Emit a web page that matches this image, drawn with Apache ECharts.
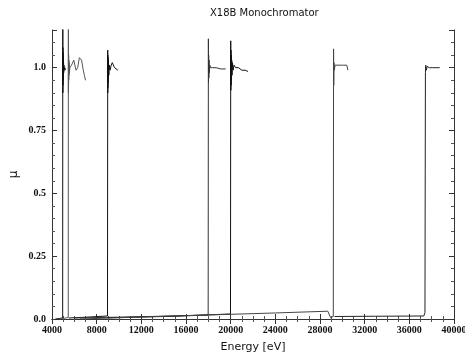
<!DOCTYPE html>
<html>
<head>
<meta charset="utf-8">
<script src="https://cdn.jsdelivr.net/npm/echarts@6/dist/echarts.min.js"></script>
<style>
  html, body { margin: 0; padding: 0; background: #fff; }
  #chart { width: 465px; height: 353px; }
</style>
</head>
<body>
<div id="chart"></div>
<script>
// energy [eV] / normalised mu for each K-edge scan
const tiE  = [4300, 4700, 4955, 4968, 4972, 4976, 4980, 4985, 4990, 4996, 5003, 5012, 5022, 5035, 5050, 5070, 5100, 5150, 5200];
const tiMu = [0.0, 0.002, 0.005, 1.45, 0.9, 1.08, 0.93, 1.06, 0.95, 1.04, 0.96, 1.03, 0.97, 1.02, 0.98, 1.01, 0.99, 1.0, 0.99];

const vE  = [4600, 5000, 5455, 5468, 5472, 5477, 5483, 5490, 5498, 5508, 5520, 5535, 5560, 5600, 5750, 5950, 6150, 6300, 6450, 6650, 6800, 6900, 7000];
const vMu = [0.0, 0.002, 0.006, 1.4, 0.9, 1.07, 0.93, 1.05, 0.95, 1.03, 0.97, 1.02, 0.98, 1.0, 1.01, 1.03, 0.99, 1.0, 1.04, 1.03, 0.99, 0.97, 0.95];

const cuE  = [5500, 7000, 8970, 8990, 8995, 9000, 9006, 9012, 9020, 9030, 9042, 9060, 9090, 9130, 9200, 9300, 9400, 9500, 9600, 9750, 9900];
const cuMu = [0.004, 0.007, 0.012, 1.07, 0.9, 1.05, 0.92, 1.04, 0.94, 1.03, 0.96, 1.02, 0.97, 1.01, 0.99, 1.01, 1.02, 1.02, 1.0, 0.995, 0.99];

const zrE  = [6000, 12000, 17985, 18005, 18015, 18030, 18045, 18065, 18090, 18130, 18200, 18400, 18700, 19100, 19550];
const zrMu = [0.004, 0.009, 0.016, 1.115, 0.94, 1.05, 0.96, 1.03, 0.98, 1.01, 1.0, 1.0, 1.0, 0.995, 0.995];

const moE  = [9000, 15000, 19985, 20005, 20015, 20028, 20042, 20058, 20075, 20095, 20120, 20160, 20220, 20300, 20450, 20700, 21000, 21300, 21550];
const moMu = [0.005, 0.011, 0.02, 1.107, 0.91, 1.07, 0.93, 1.05, 0.95, 1.03, 0.97, 1.02, 0.99, 1.01, 1.0, 1.0, 0.99, 0.99, 0.985];

const snE  = [6500, 12000, 18000, 24000, 28700, 28950, 29190, 29215, 29230, 29250, 29280, 29350, 29500, 29800, 30100, 30400, 30500];
const snMu = [0.0, 0.008, 0.016, 0.024, 0.031, 0.005, 0.01, 1.075, 0.93, 1.02, 0.99, 1.01, 1.01, 1.01, 1.01, 1.01, 0.99];

const baE  = [29300, 33000, 37300, 37400, 37440, 37470, 37520, 37600, 37800, 38100, 38400, 38720];
const baMu = [0.01, 0.011, 0.012, 0.025, 0.98, 1.01, 0.99, 1.005, 1.0, 1.0, 1.0, 1.0];

const xTicks = [4000, 8000, 12000, 16000, 20000, 24000, 28000, 32000, 36000, 40000];
const yTicks = ['0.0', '0.25', '0.5', '0.75', '1.0'];

const scans = [
  { e: tiE, mu: tiMu, color: '#111' },
  { e: vE,  mu: vMu,  color: '#555' },
  { e: cuE, mu: cuMu, color: '#111' },
  { e: zrE, mu: zrMu, color: '#333' },
  { e: moE, mu: moMu, color: '#111' },
  { e: snE, mu: snMu, color: '#444' },
  { e: baE, mu: baMu, color: '#222' }
];

const tickFont = { fontFamily: 'Liberation Serif', fontWeight: 'bold', fontSize: 10, color: '#111' };
const yLabel = v => {
  const i = Math.round(v / 0.25);
  return Math.abs(v - i * 0.25) < 1e-6 ? yTicks[i] : '';
};
const xLabel = v => String(v);

const frameLine = { show: true, lineStyle: { color: '#333', width: 1 } };
const majTick = { show: true, inside: true, length: 5, lineStyle: { color: '#333' } };

const option = {
  animation: false,
  title: {
    text: 'X18B Monochromator',
    left: 205, top: 3,
    textStyle: { fontFamily: 'DejaVu Sans', fontWeight: 'normal', fontSize: 10, color: '#111' }
  },
  grid: { left: 52, right: 11, top: 30, bottom: 34, outerBoundsMode: 'none' },
  xAxis: [
    {
      type: 'value', min: xTicks[0], max: xTicks[xTicks.length - 1], interval: 4000,
      name: 'Energy [eV]', nameLocation: 'middle', nameGap: 23,
      nameTextStyle: { fontFamily: 'DejaVu Sans', fontSize: 11, color: '#111' },
      axisLine: frameLine, axisTick: majTick,
      minorTick: { show: true, splitNumber: 4, length: 3, lineStyle: { color: '#555' } },
      axisLabel: { ...tickFont, margin: 6, formatter: xLabel },
      splitLine: { show: false }
    },
    {
      type: 'value', position: 'top', min: xTicks[0], max: xTicks[xTicks.length - 1], interval: 4000,
      axisLine: frameLine, axisTick: majTick,
      minorTick: { show: true, splitNumber: 4, length: 3, lineStyle: { color: '#555' } },
      axisLabel: { show: false }, splitLine: { show: false }
    }
  ],
  yAxis: [
    {
      type: 'value', min: 0, max: 1.15, interval: 0.25,
      name: 'μ', nameLocation: 'middle', nameGap: 32, nameMoveOverlap: false,
      nameTextStyle: { fontFamily: 'DejaVu Sans', fontSize: 12, color: '#111' },
      axisLine: frameLine, axisTick: majTick,
      minorTick: { show: true, splitNumber: 5, length: 3, lineStyle: { color: '#555' } },
      axisLabel: { ...tickFont, margin: 6, formatter: yLabel },
      splitLine: { show: false }
    },
    {
      type: 'value', position: 'right', min: 0, max: 1.15, interval: 0.25,
      axisLine: frameLine, axisTick: majTick,
      minorTick: { show: true, splitNumber: 5, length: 3, lineStyle: { color: '#555' } },
      axisLabel: { show: false }, splitLine: { show: false }
    }
  ],
  series: scans.map(s => ({
    type: 'line',
    data: s.e.map((x, i) => [x, s.mu[i]]),
    showSymbol: false,
    clip: true,
    lineStyle: { color: s.color, width: 1 }
  }))
};

const myChart = echarts.init(document.getElementById('chart'));
myChart.setOption(option);
</script>
</body>
</html>
